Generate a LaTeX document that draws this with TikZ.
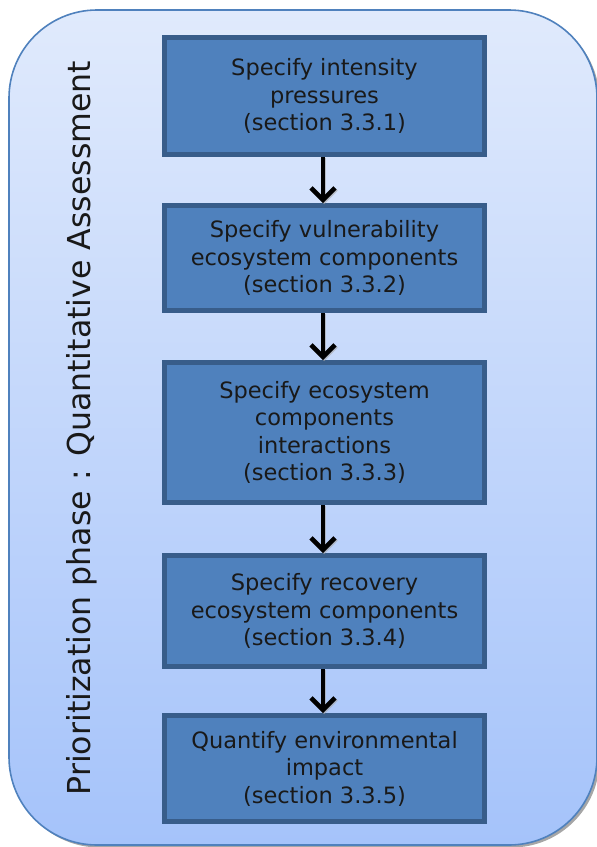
\documentclass[tikz,border=0pt]{standalone}
\usepackage{fontspec}
\setmainfont{DejaVu Sans}
\usetikzlibrary{arrows.meta}
\definecolor{paneltop}{HTML}{E0EAFC}
\definecolor{panelbottom}{HTML}{A5C3FA}
\definecolor{panelline}{HTML}{4F81BD}
\definecolor{boxfill}{HTML}{4F81BD}
\definecolor{boxline}{HTML}{385D8A}
\tikzset{
  stepbox/.style={draw=boxline, fill=boxfill, line width=5pt,
    minimum width=320pt, align=center, inner sep=0pt,
    font=\fontsize{22.5}{27.5}\selectfont, text=black!90},
  flow/.style={line width=4.5pt, -{Straight Barb[length=12pt,width=24pt]}},
  flowshadow/.style={flow, draw=black!35, opacity=0.6}
}
\begin{document}
\begin{tikzpicture}[x=1pt,y=-1pt]
\useasboundingbox (0,0) rectangle (597,847);
% panel with drop shadow and vertical gradient
\fill[black!35, rounded corners=88pt] (11.5,12.5) rectangle (599.5,847.5);
\shade[top color=paneltop, bottom color=panelbottom, rounded corners=88pt]
  (9,10) rectangle (597,845);
\draw[panelline, line width=1.6pt, rounded corners=88pt]
  (9,10) rectangle (597,845);
% side title
\node[rotate=90, anchor=base, font=\fontsize{31.6}{36}\selectfont, text=black!90]
  (title) at (90,428) {Prioritization phase : Quantitative Assessment};
% process steps
\node[stepbox, minimum height=117pt] (s1) at (324.5,96)
  {Specify intensity\\pressures\\(section 3.3.1)};
\node[stepbox, minimum height=105pt] (s2) at (324.5,258)
  {Specify vulnerability\\ecosystem components\\(section 3.3.2)};
\node[stepbox, minimum height=140pt] (s3) at (324.5,432.5)
  {Specify ecosystem\\components\\interactions\\(section 3.3.3)};
\node[stepbox, minimum height=111pt] (s4) at (324.5,611)
  {Specify recovery\\ecosystem components\\(section 3.3.4)};
\node[stepbox, minimum height=106pt] (s5) at (324.5,768.5)
  {Quantify environmental\\impact\\(section 3.3.5)};
% connectors
\foreach \a/\b in {s1/s2, s2/s3, s3/s4, s4/s5}{
  \draw[flowshadow, transform canvas={shift={(1.2pt,-1.2pt)}}]
    ([xshift=-1.5pt]\a.south) -- ([xshift=-1.5pt]\b.north);
  \draw[flow] ([xshift=-1.5pt]\a.south) -- ([xshift=-1.5pt]\b.north);
}
\end{tikzpicture}
\end{document}
